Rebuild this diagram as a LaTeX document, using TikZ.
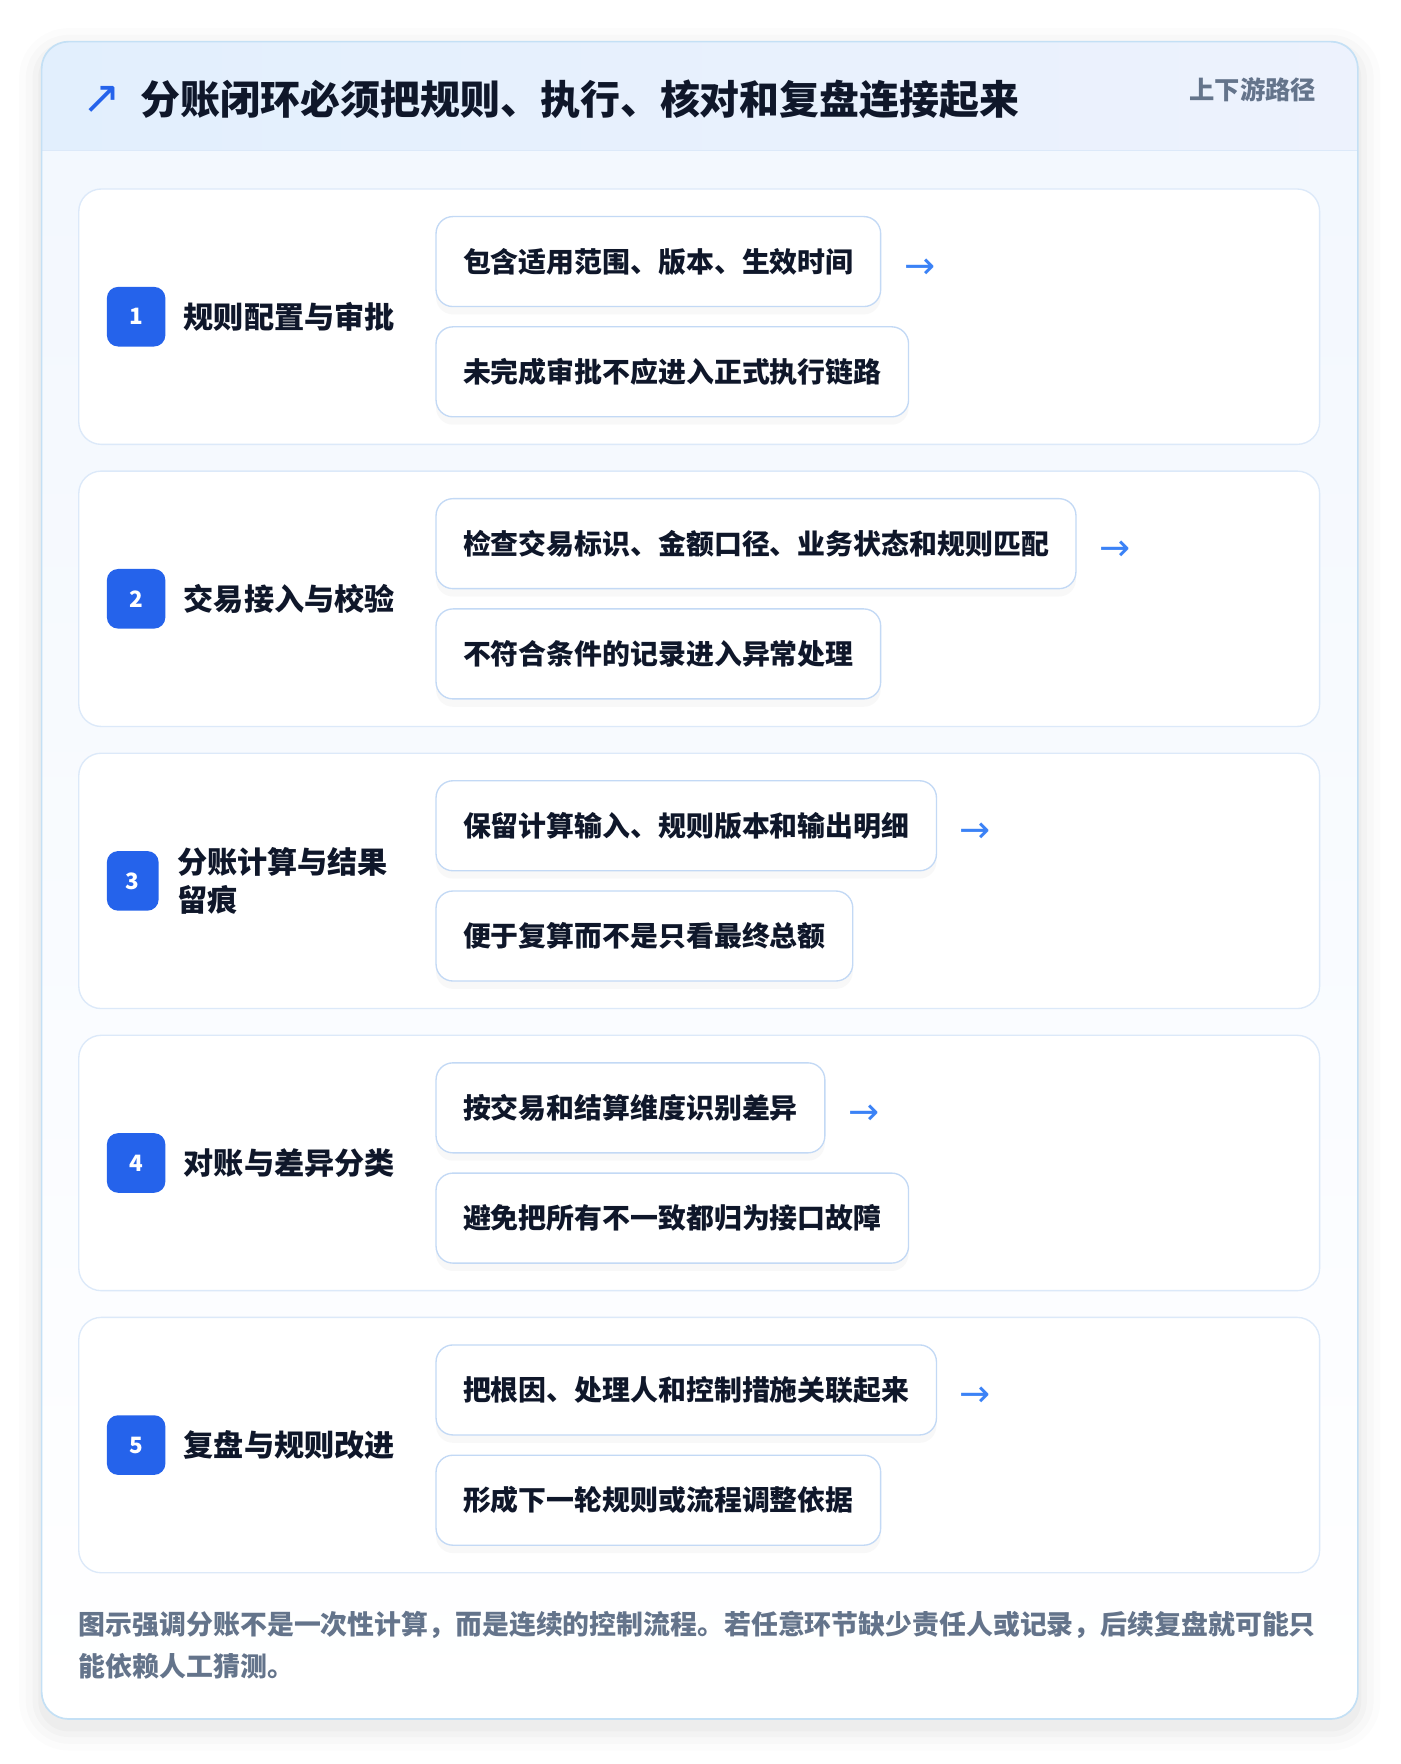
\documentclass[tikz,border=0pt]{standalone}
\usepackage{fontspec}
\setmainfont{Noto Sans CJK SC}
\newfontfamily\symfont{DejaVu Sans}
\usetikzlibrary{positioning}
\usetikzlibrary{shadows}
\usetikzlibrary{calc}
\definecolor{ink}{HTML}{0F172A}
\definecolor{mute}{HTML}{64748B}
\definecolor{badge}{HTML}{2563EB}
\definecolor{arrowblue}{HTML}{3B82F6}
\definecolor{cardline}{HTML}{DCE9F9}
\definecolor{boxline}{HTML}{C3D9F5}
\definecolor{frameline}{HTML}{C4E0F5}
\definecolor{headL}{HTML}{E2EFFD}
\definecolor{headR}{HTML}{EDF2FD}
\definecolor{bodytop}{HTML}{F2F7FE}
\tikzstyle{card}=[draw=cardline,line width=1.2pt,fill=white,rounded corners=20pt,minimum width=1103pt,minimum height=227pt,inner sep=0pt]
\tikzstyle{numbox}=[fill=badge,text=white,rounded corners=10pt,minimum height=53pt,inner sep=0pt,font=\fontsize{20}{24}\selectfont\bfseries]
\tikzstyle{steplabel}=[text=ink,align=left,inner sep=0pt,font=\fontsize{26.8}{34}\selectfont\bfseries]
\tikzstyle{subbox}=[draw=boxline,line width=1.2pt,fill=white,rounded corners=15pt,minimum height=80pt,inner xsep=24pt,inner ysep=0pt,text=ink,font=\fontsize{24.8}{30}\selectfont\bfseries,drop shadow={opacity=0.05,shadow xshift=0pt,shadow yshift=-7pt}]
\tikzstyle{flow}=[text=arrowblue,inner sep=0pt,font=\symfont\fontsize{33}{33}\selectfont]
\tikzstyle{note}=[text=mute,inner sep=0pt,font=\fontsize{23.9}{37}\selectfont\bfseries]

\begin{document}
\begin{tikzpicture}[x=1pt,y=-1pt]

  \useasboundingbox (0,0) rectangle (1245,1568);
  \fill[white] (0,0) rectangle (1245,1568);

  % soft shadow round the frame
  \foreach \s/\r/\o in {20/44/0.010, 14/38/0.014, 8/32/0.018, 3/27/0.025}
    \fill[black,opacity=\o,rounded corners=\r pt] (37-\s,37-\s+8) rectangle (1207+\s,1528+\s+8);

  \begin{scope}
    \clip[rounded corners=24pt] (37,37) rectangle (1207,1528);
    \shade[top color=bodytop,bottom color=white] (37,37) rectangle (1207,1528);
    \shade[left color=headL,right color=headR] (37,37) rectangle (1207,134);
    \draw[cardline,line width=1.2pt] (37,134) -- (1207,134);
  \end{scope}
  \draw[frameline,line width=1.5pt,rounded corners=24pt] (37,37) rectangle (1207,1528);

  % header
  \node[text=badge,inner sep=0pt,font=\symfont\fontsize{41}{41}\selectfont] (icon) at (90.5,88.5) {↗};
  \node[anchor=west,text=ink,inner sep=0pt,font=\fontsize{35.5}{40}\selectfont\bfseries] (title) at (125,88) {分账闭环必须把规则、执行、核对和复盘连接起来};
  \node[anchor=east,text=mute,inner sep=0pt,font=\fontsize{22.5}{26}\selectfont\bfseries] (tag) at (1170,80) {上下游路径};

  % steps
  \foreach \i/\bw/\label/\subA/\subB in {
      1/52/{规则配置与审批}/{包含适用范围、版本、生效时间}/{未完成审批不应进入正式执行链路},
      2/52/{交易接入与校验}/{检查交易标识、金额口径、业务状态和规则匹配}/{不符合条件的记录进入异常处理},
      3/46/{分账计算与结果\\留痕}/{保留计算输入、规则版本和输出明细}/{便于复算而不是只看最终总额},
      4/52/{对账与差异分类}/{按交易和结算维度识别差异}/{避免把所有不一致都归为接口故障},
      5/52/{复盘与规则改进}/{把根因、处理人和控制措施关联起来}/{形成下一轮规则或流程调整依据}}
  {
    \pgfmathsetmacro\cy{281.5+250.75*(\i-1)}
    \node[card] (card\i) at (621.5,\cy) {};
    \node[numbox,minimum width=\bw pt] (num\i) at (95+\bw/2,\cy) {\i};
    \node[steplabel,anchor=west,right=16pt of num\i] (step\i) {\label};
    \node[subbox,anchor=west] (top\i) at (387,\cy-49) {\subA};
    \node[subbox,anchor=west] (bot\i) at (387,\cy+49) {\subB};
    \node[flow,right=20pt of top\i,yshift=-6pt] (arr\i) {→};
  }

  % footer note
  \node[note,anchor=west,align=left] (note) at (70,1462.5) {图示强调分账不是一次性计算，而是连续的控制流程。若任意环节缺少责任人或记录，后续复盘就可能只\\能依赖人工猜测。};

\end{tikzpicture}
\end{document}
